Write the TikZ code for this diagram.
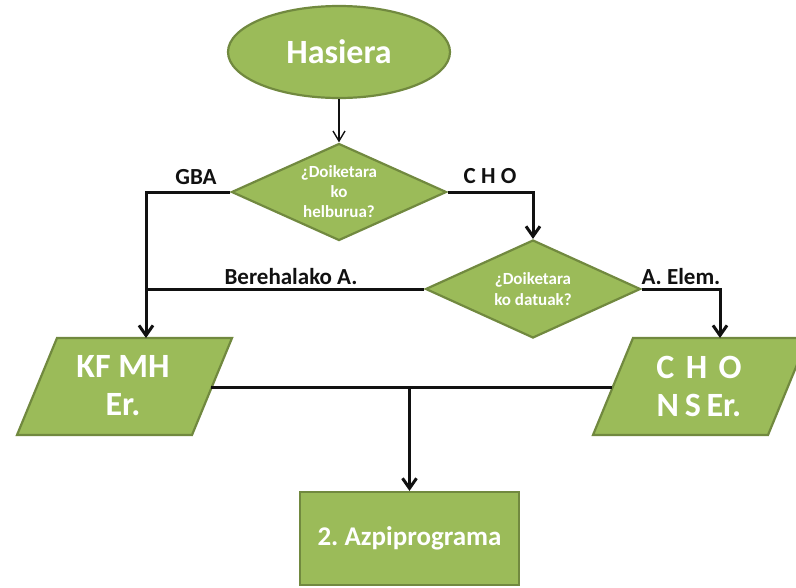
\documentclass[tikz,border=0pt]{standalone}
\usepackage{fontspec}
\setmainfont{Carlito}
\usetikzlibrary{shapes.geometric,arrows.meta,calc}
\definecolor{boxfill}{HTML}{9BBB59}
\definecolor{boxline}{HTML}{71893F}
\definecolor{ink}{HTML}{111111}
\frenchspacing
\begin{document}
\begin{tikzpicture}[x=1pt,y=-1pt,
  flow/.style={fill=boxfill,draw=boxline,line width=2.2pt,text=white},
  boxtext/.style={text=white,align=center,inner sep=0pt},
  wire/.style={draw=ink,line width=3pt},
  conn/.style={wire,-{Straight Barb[length=10pt,width=14pt]}},
  thinconn/.style={draw=ink,line width=1.4pt,-{Straight Barb[length=10pt,width=12pt]}},
  tag/.style={text=ink,font=\bfseries\fontsize{23}{26}\selectfont,inner sep=0pt,anchor=base}
]
\useasboundingbox (0,0) rectangle (796,587);
\fill[white] (0,0) rectangle (796,587);
\clip (0,0) rectangle (796,587);

% start terminal
\node[flow,ellipse,minimum width=222pt,minimum height=92pt,inner sep=0pt,
      font=\bfseries\fontsize{34}{38}\selectfont] (start) at (339,52) {Hasiera};

% decisions
\node[flow,diamond,aspect=2.2,minimum width=215pt,minimum height=97pt,inner sep=0pt,
      align=center,font=\bfseries\fontsize{17}{20}\selectfont] (q1) at (339,192)
      {¿Doiketara\\ko\\helburua?};
\node[flow,diamond,aspect=2.2,minimum width=215pt,minimum height=98pt,inner sep=0pt,
      align=center,font=\bfseries\fontsize{17}{21}\selectfont] (q2) at (533,289)
      {¿Doiketara\\ko datuak?};

% input/output parallelograms
\draw[flow] (57,338) coordinate (kfTL) -- (232,338) coordinate (kfTR)
  -- (192,435) coordinate (kfBR) -- (17,435) coordinate (kfBL) -- cycle;
\node[boxtext,font=\bfseries\fontsize{34}{38}\selectfont] (kf) at (123,386) {KF MH\\Er.};
\coordinate (kfTop) at (146,338);

\draw[flow] (633,338) coordinate (chTL) -- (808,338) coordinate (chTR)
  -- (768,435) coordinate (chBR) -- (593,435) coordinate (chBL) -- cycle;
\node[boxtext,font=\bfseries\fontsize{34}{38}\selectfont] (ch) at (699,386)
  {C\,\,H\,\,O\\N\,S\,Er.};
\coordinate (chTop) at (720,338);

% subprogram
\node[flow,rectangle,minimum width=219pt,minimum height=93pt,inner sep=0pt,
      font=\bfseries\fontsize{27}{32}\selectfont] (sub) at (409.5,538.5) {2. Azpiprograma};

% connectors
\draw[thinconn] (start.south) -- (q1.north);
\draw[conn] (q1.west) -| (kfTop);
\draw[wire] (q2.west) -- (q2.west -| kfTop);
\draw[conn] (q1.east) -| (q2.north);
\draw[conn] (q2.east) -| (chTop);
\coordinate (kfR) at ($(kfTR)!0.515!(kfBR)$);
\coordinate (chL) at ($(chTL)!0.515!(chBL)$);
\draw[wire] (kfR) -- (chL);
\draw[conn] (kfR -| sub.north) -- (sub.north);

% branch labels
\node[tag] (lgba) at (196,184) {GBA};
\node[tag] (lcho) at (490,183) {C H O};
\node[tag] (lber) at (291,284) {Berehalako A.};
\node[tag] (lelem) at (681,284) {A. Elem.};
\end{tikzpicture}
\end{document}
